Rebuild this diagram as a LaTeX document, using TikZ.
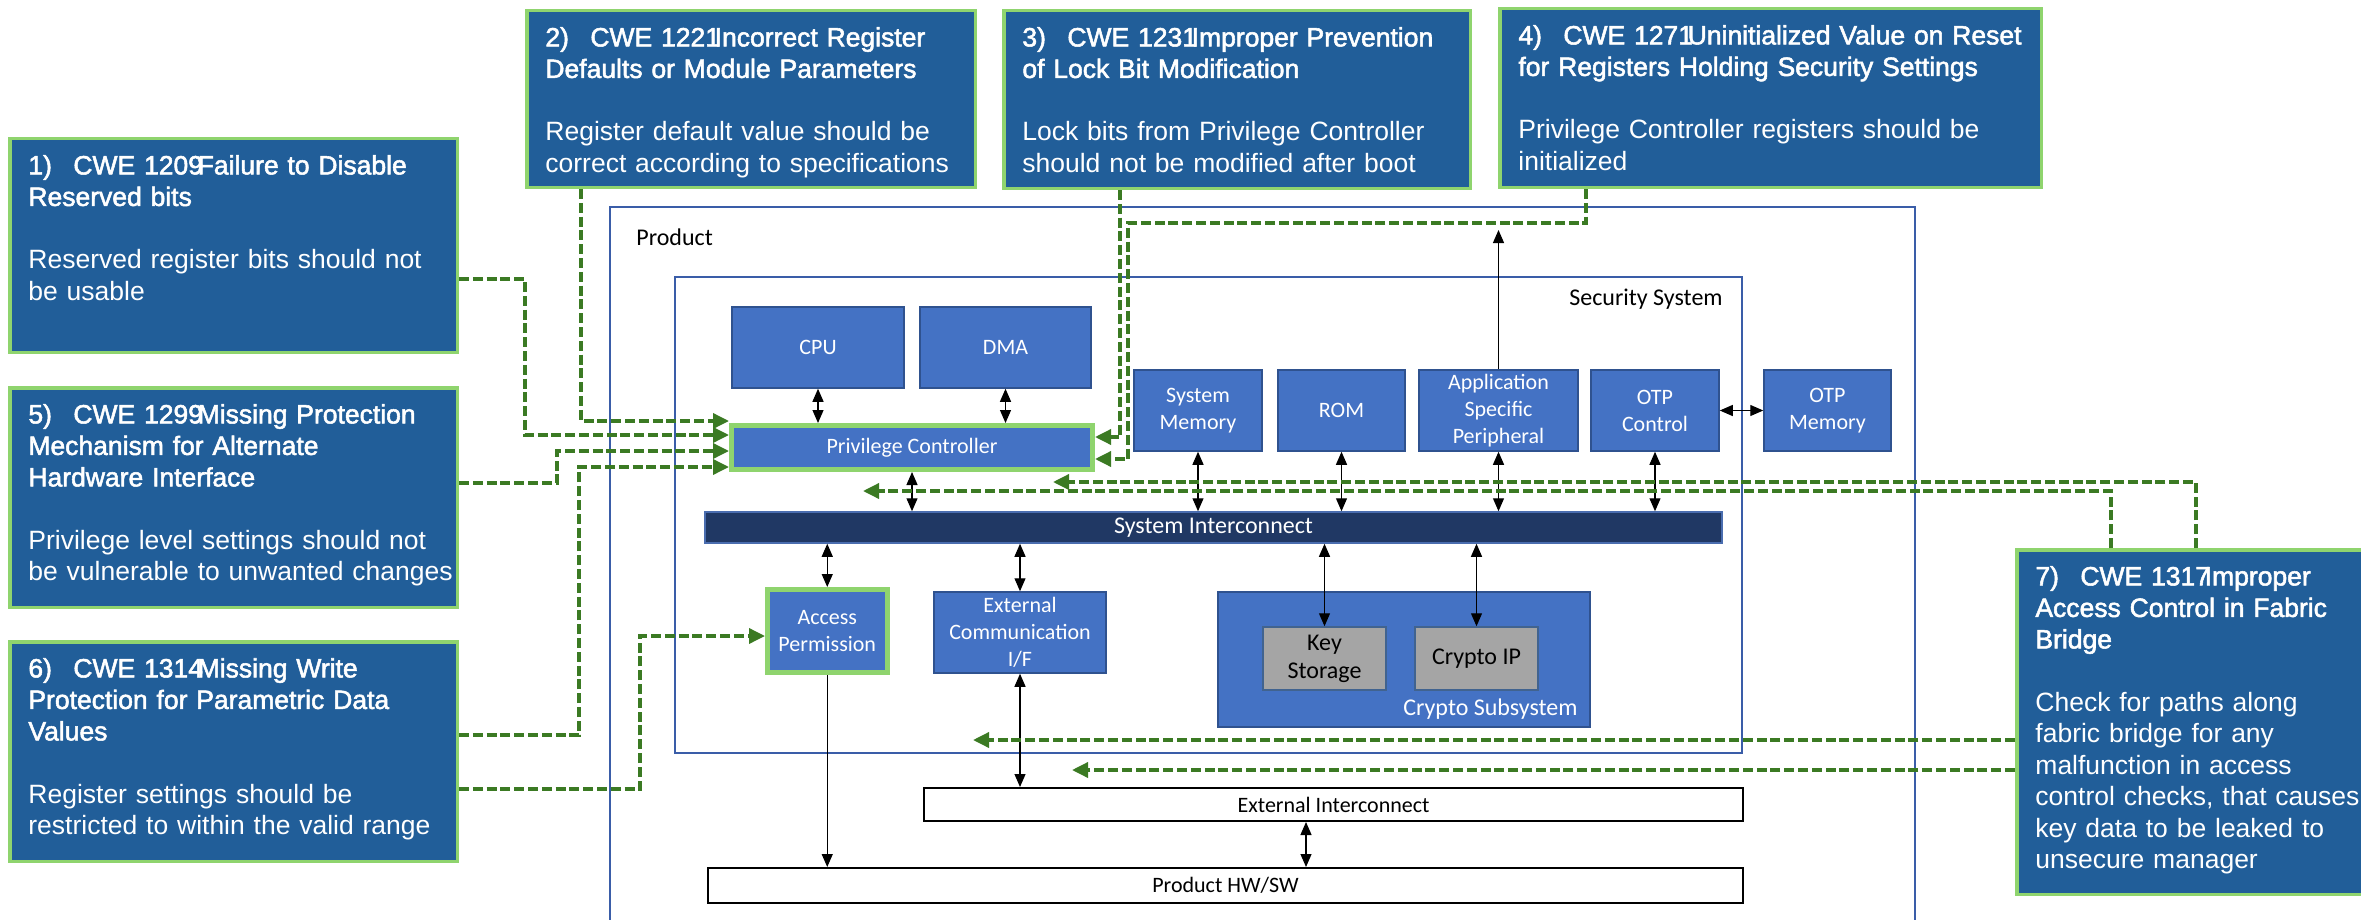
\documentclass[tikz,border=0pt]{standalone}
\usepackage{fontspec}
\setmainfont{Liberation Sans}
\newfontfamily\cwebody{Liberation Sans}
\newfontfamily\cwehead{Liberation Sans}[FakeBold=2]
\newfontfamily\calfont{Carlito}
\usetikzlibrary{arrows.meta}

\definecolor{cwefill}{HTML}{215E99}
\definecolor{cweedge}{HTML}{8FD46E}
\definecolor{blockfill}{HTML}{4472C4}
\definecolor{blockedge}{HTML}{2F528F}
\definecolor{busfill}{HTML}{203864}
\definecolor{busedge}{HTML}{4A6DAF}
\definecolor{greyfill}{HTML}{A5A5A5}
\definecolor{chipedge}{HTML}{41638F}
\definecolor{linkgreen}{HTML}{3B7A23}
\definecolor{frameblue}{HTML}{3A5DA8}

\tikzset{
  wh/.style 2 args={minimum width=#1*0.5pt, minimum height=#2*0.5pt},
  frame/.style={draw=frameblue, line width=0.8pt, inner sep=0pt},
  block/.style={draw=blockedge, fill=blockfill, line width=0.75pt, inner sep=0pt,
    text=white, align=center, font=\calfont\fontsize{11}{13.5}\selectfont},
  flagged/.style={draw=cweedge, line width=2.5pt},
  bus/.style={draw=busedge, fill=busfill, line width=0.75pt, inner sep=0pt,
    text=white, font=\calfont\fontsize{12}{14}\selectfont},
  chip/.style={draw=chipedge, fill=greyfill, line width=0.75pt, inner sep=0pt,
    text=black, align=center, font=\calfont\fontsize{12}{14}\selectfont},
  plainbox/.style={draw=black, fill=white, line width=1pt, inner sep=0pt,
    font=\calfont\fontsize{11}{13.5}\selectfont},
  caption/.style={inner sep=0pt, font=\calfont\fontsize{12}{14}\selectfont},
  cwebox/.style={draw=cweedge, fill=cwefill, line width=1.75pt, inner sep=0pt},
  cwetext/.style={anchor=north west, inner sep=0pt, text width=270pt, align=left,
    text=white, font=\cwebody\fontsize{13.25}{15.75}\selectfont,
    execute at begin node=\strut},
  link/.style={draw=black, line width=0.6pt},
  biarrow/.style={link, arrows={Triangle[length=6.5pt,width=5.5pt]-Triangle[length=6.5pt,width=5.5pt]}},
  onearrow/.style={link, arrows={-Triangle[length=6.5pt,width=5.5pt]}},
  warnline/.style={draw=linkgreen, line width=1.75pt, dash pattern=on 5pt off 1.9pt},
  warn/.style={warnline, arrows={-Triangle[length=8pt,width=7.5pt]}},
}

\begin{document}
\begin{tikzpicture}[x=0.5pt, y=-0.5pt]
\useasboundingbox (0,0) rectangle (2361,920);
\clip (0,0) rectangle (2361,920);

% ---------- containers ----------
\node[frame, wh={1305}{723}] (product) at (1262.5,568.5) {};
\node[caption, anchor=base west] (productlbl) at (636,245) {Product};
\node[frame, wh={1067}{476}] (secsys) at (1208.5,515) {};
\node[caption, anchor=base east] (secsyslbl) at (1723,305) {Security System};

% ---------- hardware blocks ----------
\node[block, wh={172}{81}] (cpu) at (818,347.5) {CPU};
\node[block, wh={171}{81}] (dma) at (1005.5,347.5) {DMA};
\node[block, flagged, wh={361}{44}] (pc) at (912,447.5) {Privilege Controller};
\node[block, wh={128}{81}] (sysmem) at (1198,410.5) {System\\Memory};
\node[block, wh={127}{81}] (rom) at (1341.5,410.5) {ROM};
\node[block, wh={159}{81}] (asp) at (1498.5,410.5) {Application\\Specific\\Peripheral};
\node[block, wh={128}{81}] (otpc) at (1655,410.5) {OTP\\Control};
\node[block, wh={127}{81}] (otpm) at (1827.5,410.5) {OTP\\Memory};
\node[bus, wh={1017}{31}] (si) at (1213.5,527.5) {System Interconnect};
\node[block, flagged, wh={119.5}{83}] (ap) at (827.25,631) {Access\\Permission};
\node[block, wh={172}{81}] (extcomm) at (1020,632.5) {External\\Communication\\I/F};
\node[block, wh={372}{135}] (cryptosub) at (1404,659.5) {};
\node[caption, text=white, anchor=base east] (cryptolbl) at (1578,715) {Crypto Subsystem};
\node[chip, wh={123}{63}] (keystore) at (1324.5,658.5) {Key\\Storage};
\node[chip, wh={123}{63}] (cryptoip) at (1476.5,658.5) {Crypto IP};
\node[plainbox, wh={819}{33}] (extic) at (1333.5,804.5) {External Interconnect};
\node[plainbox, wh={1035}{35}] (hwsw) at (1225.5,885.5) {Product HW/SW};

% ---------- data paths ----------
\coordinate (asptip) at (1498.5,230);
\coordinate (hwlink) at (1306,850);
\draw[biarrow] (cpu.south) -- (cpu.south |- pc.north);
\draw[biarrow] (dma.south) -- (dma.south |- pc.north);
\draw[biarrow] (pc.south) -- (pc.south |- si.north);
\draw[biarrow] (sysmem.south) -- (sysmem.south |- si.north);
\draw[biarrow] (rom.south) -- (rom.south |- si.north);
\draw[biarrow] (asp.south) -- (asp.south |- si.north);
\draw[biarrow] (otpc.south) -- (otpc.south |- si.north);
\draw[biarrow] (otpc.east) -- (otpm.west);
\draw[onearrow] (asp.north) -- (asptip);
\draw[biarrow] (si.south -| ap.north) -- (ap.north);
\draw[biarrow] (si.south -| extcomm.north) -- (extcomm.north);
\draw[biarrow] (si.south -| keystore.north) -- (keystore.north);
\draw[biarrow] (si.south -| cryptoip.north) -- (cryptoip.north);
\draw[biarrow] (extcomm.south) -- (extcomm.south |- extic.north);
\draw[biarrow] (hwlink |- extic.south) -- (hwlink |- hwsw.north);
\draw[onearrow] (ap.south) -- (ap.south |- hwsw.north);

% ---------- weakness call-outs ----------
\node[cwebox, wh={447.5}{213.5}] (cwe1) at (233.5,245.5) {};
\node[cwetext] (cwe1txt) at ([shift={(20,15)}]cwe1.north west)
  {{\cwehead\makebox[22.5pt][l]{1)}CWE 1209\kern-.2em Failure to Disable\\Reserved bits}\\[15.75pt]
   Reserved register bits should not\\be usable};

\node[cwebox, wh={447.5}{219.5}] (cwe5) at (233.5,497.5) {};
\node[cwetext] (cwe5txt) at ([shift={(20,15)}]cwe5.north west)
  {{\cwehead\makebox[22.5pt][l]{5)}CWE 1299\kern-.2em Missing Protection\\Mechanism for Alternate\\Hardware Interface}\\[15.75pt]
   Privilege level settings should not\\be vulnerable to unwanted changes};

\node[cwebox, wh={447.5}{219.5}] (cwe6) at (233.5,751.5) {};
\node[cwetext] (cwe6txt) at ([shift={(20,15)}]cwe6.north west)
  {{\cwehead\makebox[22.5pt][l]{6)}CWE 1314\kern-.2em Missing Write\\Protection for Parametric Data\\Values}\\[15.75pt]
   Register settings should be\\restricted to within the valid range};

\node[cwebox, wh={448.5}{176.5}] (cwe2) at (751,99) {};
\node[cwetext] (cwe2txt) at ([shift={(20,15)}]cwe2.north west)
  {{\cwehead\makebox[22.5pt][l]{2)}CWE 1221\kern-.2em Incorrect Register\\Defaults or Module Parameters}\\[15.75pt]
   Register default value should be\\correct according to specifications};

\node[cwebox, wh={466.5}{177.5}] (cwe3) at (1237,99.5) {};
\node[cwetext] (cwe3txt) at ([shift={(20,15)}]cwe3.north west)
  {{\cwehead\makebox[22.5pt][l]{3)}CWE 1231\kern-.2em Improper Prevention\\of Lock Bit Modification}\\[15.75pt]
   Lock bits from Privilege Controller\\should not be modified after boot};

\node[cwebox, wh={541.5}{178.5}] (cwe4) at (1770.5,98) {};
\node[cwetext] (cwe4txt) at ([shift={(20,15)}]cwe4.north west)
  {{\cwehead\makebox[22.5pt][l]{4)}CWE 1271\kern-.2em Uninitialized Value on Reset\\for Registers Holding Security Settings}\\[15.75pt]
   Privilege Controller registers should be\\initialized};

\node[cwebox, wh={356.5}{344.5}] (cwe7) at (2195,722) {};
\node[cwetext] (cwe7txt) at ([shift={(20,15)}]cwe7.north west)
  {{\cwehead\makebox[22.5pt][l]{7)}CWE 1317\kern-.2em Improper\\Access Control in Fabric\\Bridge}\\[15.75pt]
   Check for paths along\\fabric bridge for any\\malfunction in access\\control checks, that causes\\key data to be leaked to\\unsecure manager};

% ---------- call-out links ----------
\coordinate (lvA) at (0,421);
\coordinate (lvB) at (0,435);
\coordinate (lvC) at (0,451);
\coordinate (lvD) at (0,467);
\coordinate (lvE) at (0,437);
\coordinate (lvF) at (0,459);
\coordinate (lvAP) at (0,636);

\coordinate (w1) at (525,279);
\coordinate (w2) at (581,300);
\coordinate (w5) at (557,483);
\coordinate (w6) at (579,735);
\coordinate (w6b) at (640,789);
\coordinate (w3) at (1120,300);
\coordinate (w4) at (1586,223);
\coordinate (w4b) at (1128,223);
\coordinate (w7a) at (2196,482);
\coordinate (w7b) at (2111,491);
\coordinate (t7a) at (1053,482);
\coordinate (t7b) at (863,491);
\coordinate (t7c) at (973,740);
\coordinate (t7d) at (1072,770);

\draw[warn] (cwe1.east |- w1) -- (w1) |- (lvB -| pc.west);
\draw[warn] (w2 |- cwe2.south) |- (lvA -| pc.west);
\draw[warn] (cwe5.east |- w5) -- (w5) |- (lvC -| pc.west);
\draw[warn] (cwe6.east |- w6) -- (w6) |- (lvD -| pc.west);
\draw[warn] (cwe6.east |- w6b) -- (w6b) |- (lvAP -| ap.west);
\draw[warn] (w3 |- cwe3.south) |- (lvE -| pc.east);
\draw[warn] (w4 |- cwe4.south) -- (w4) -- (w4b) |- (lvF -| pc.east);
\draw[warn] (w7a |- cwe7.north) -- (w7a) -- (t7a);
\draw[warn] (w7b |- cwe7.north) -- (w7b) -- (t7b);
\draw[warn] (cwe7.west |- t7c) -- (t7c);
\draw[warn] (cwe7.west |- t7d) -- (t7d);
\end{tikzpicture}
\end{document}
